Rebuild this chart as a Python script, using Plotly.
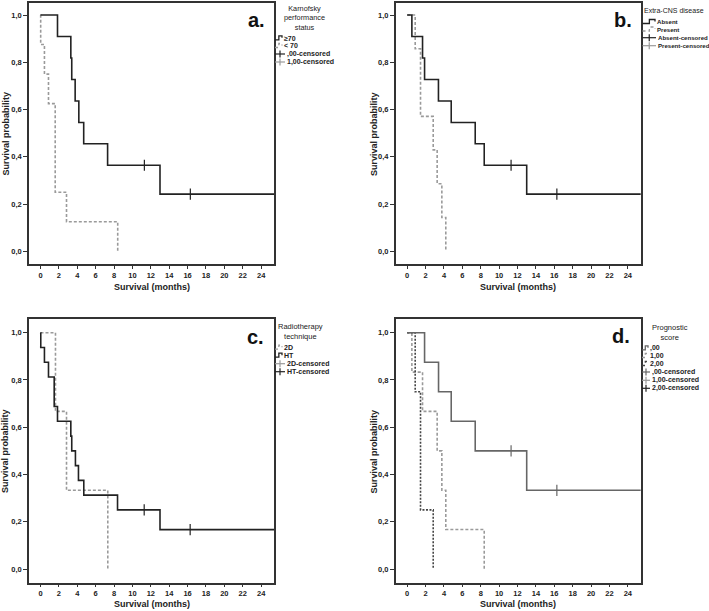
import plotly.graph_objects as go

W, H = 709, 611

# ---------------- data ----------------
# Panel a: Karnofsky performance status
a_hi_t = [1.85, 3.3, 3.4, 3.77, 4.17, 4.7, 7.3, 13.0, 26.0]
a_hi_s = [0.909, 0.818, 0.727, 0.636, 0.545, 0.455, 0.364, 0.242, 0.242]
a_hi_ct = [11.3, 16.3]
a_hi_cs = [0.364, 0.242]
a_lo_t = [0.02, 0.43, 0.87, 1.6, 2.83, 8.4]
a_lo_s = [0.875, 0.75, 0.625, 0.25, 0.125, 0.0]

# Panel b: Extra-CNS disease
b_abs_t = [0.51, 1.67, 1.89, 3.4, 4.79, 7.4, 8.38, 13.0, 26.0]
b_abs_s = [0.909, 0.818, 0.727, 0.636, 0.545, 0.455, 0.364, 0.242, 0.242]
b_abs_ct = [11.3, 16.28]
b_abs_cs = [0.364, 0.242]
b_pre_t = [0.87, 1.45, 2.83, 3.26, 3.77, 4.2]
b_pre_s = [0.857, 0.571, 0.429, 0.286, 0.143, 0.0]

# Panel c: Radiotherapy technique
c_2d_t = [1.63, 2.83, 7.32]
c_2d_s = [0.667, 0.333, 0.0]
c_ht_t = [0.03, 0.43, 0.87, 1.49, 1.85, 3.3, 3.4, 3.8, 4.13, 4.71, 8.38, 13.0, 26.0]
c_ht_s = [0.9375, 0.875, 0.8125, 0.6875, 0.625, 0.5625, 0.5, 0.4375, 0.375,
          0.3125, 0.25, 0.1667, 0.1667]
c_ht_ct = [11.28, 16.28]
c_ht_cs = [0.25, 0.1667]

# Panel d: Prognostic score
d_0_t = [1.89, 3.41, 4.79, 7.4, 13.0, 26.0]
d_0_s = [0.875, 0.75, 0.625, 0.5, 0.333, 0.333]
d_0_ct = [11.3, 16.28]
d_0_cs = [0.5, 0.333]
d_1_t = [0.51, 1.67, 3.26, 3.77, 4.2, 8.38]
d_1_s = [0.833, 0.667, 0.5, 0.333, 0.167, 0.0]
d_2_t = [0.87, 1.45, 2.83]
d_2_s = [0.75, 0.25, 0.0]

x_ticks = list(range(0, 25, 2))
y_ticks = [0.0, 0.2, 0.4, 0.6, 0.8, 1.0]
y_tick_text = ["0,0", "0,2", "0,4", "0,6", "0,8", "1,0"]

# ---------------- styles ----------------
BLACK = "#222222"
GRAY = "#9a9a9a"
D0 = "#666666"
D2 = "#444444"
DASH = "3px,2px"
DOT = "2px,1.5px"
FONT = "Liberation Sans, Arial, sans-serif"


def px(x):
    return x / W


def py(y):
    return 1 - y / H


fig = go.Figure()

panels = {
    "a": dict(xa="x", ya="y", xd=[px(29), px(274)], yd=[py(264), py(3)], yr=[-0.054, 1.051]),
    "b": dict(xa="x2", ya="y2", xd=[px(395.7), px(640.7)], yd=[py(264), py(3)], yr=[-0.054, 1.051]),
    "c": dict(xa="x3", ya="y3", xd=[px(29), px(274)], yd=[py(582.7), py(319)], yr=[-0.058, 1.058]),
    "d": dict(xa="x4", ya="y4", xd=[px(395.7), px(640.7)], yd=[py(582.7), py(319)], yr=[-0.058, 1.058]),
}


def curve(p, t, s, color, dash="solid", width=1.6):
    fig.add_trace(go.Scatter(
        x=[0.0] + t, y=[1.0] + s, mode="lines", line_shape="hv",
        line=dict(color=color, width=width, dash=dash),
        xaxis=panels[p]["xa"], yaxis=panels[p]["ya"], showlegend=False,
        hoverinfo="skip"))


def censor(p, t, s, color):
    fig.add_trace(go.Scatter(
        x=t, y=s, mode="markers",
        marker=dict(symbol="line-ns", size=8, line=dict(color=color, width=1.2)),
        xaxis=panels[p]["xa"], yaxis=panels[p]["ya"], showlegend=False,
        hoverinfo="skip"))


curve("a", a_lo_t, a_lo_s, GRAY, DASH)
curve("a", a_hi_t, a_hi_s, BLACK)
censor("a", a_hi_ct, a_hi_cs, BLACK)

curve("b", b_pre_t, b_pre_s, GRAY, DASH)
curve("b", b_abs_t, b_abs_s, BLACK)
censor("b", b_abs_ct, b_abs_cs, BLACK)

curve("c", c_2d_t, c_2d_s, GRAY, DASH)
curve("c", c_ht_t, c_ht_s, BLACK)
censor("c", c_ht_ct, c_ht_cs, BLACK)

curve("d", d_1_t, d_1_s, GRAY, DASH)
curve("d", d_2_t, d_2_s, D2, DOT)
curve("d", d_0_t, d_0_s, D0)
censor("d", d_0_ct, d_0_cs, D0)

layout = dict(
    width=W, height=H, margin=dict(l=0, r=0, t=0, b=0),
    paper_bgcolor="white", plot_bgcolor="white", showlegend=False,
    font=dict(family=FONT, color=BLACK),
)

for i, (k, p) in enumerate(panels.items()):
    sfx = "" if i == 0 else str(i + 1)
    layout["xaxis" + sfx] = dict(
        domain=p["xd"], range=[-1.25, 25.4], anchor=p["ya"],
        tickvals=x_ticks, ticks="outside", ticklen=3, tickwidth=1, tickcolor="#333",
        showline=True, linecolor="#333", linewidth=1.5, mirror=True,
        showgrid=False, zeroline=False,
        tickfont=dict(family=FONT, size=7.5, color=BLACK, weight="bold"))
    layout["yaxis" + sfx] = dict(
        domain=p["yd"], range=p["yr"], anchor=p["xa"],
        tickvals=y_ticks, ticktext=y_tick_text, ticks="outside", ticklen=4,
        tickwidth=1, tickcolor="#333",
        showline=True, linecolor="#333", linewidth=1.5, mirror=True,
        showgrid=False, zeroline=False,
        tickfont=dict(family=FONT, size=7.5, color=BLACK, weight="bold"))

fig.update_layout(**layout)

ann = []
shapes = []


def text(x, y, s, size, bold=False, xanchor="center", yanchor="middle", angle=0, color=BLACK):
    ann.append(dict(
        x=px(x), y=py(y), xref="paper", yref="paper", text=s, showarrow=False,
        xanchor=xanchor, yanchor=yanchor, textangle=angle, borderpad=0,
        font=dict(family=FONT, size=size, color=color, weight="bold" if bold else "normal")))


# Axis titles
for cx, ty, ly in [(151.5, 287, 133.5), (518, 287, 133.5), (151.5, 604, 451), (518, 604, 451)]:
    text(cx, ty, "Survival (months)", 9, bold=True)
    text(5 if cx < 300 else 373.5, ly, "Survival probability", 9, bold=True, angle=-90)

# Panel labels
text(266, 20, "a.", 20, bold=True, xanchor="right", color="#111")
text(633, 20, "b.", 20, bold=True, xanchor="right", color="#111")
text(265, 337, "c.", 20, bold=True, xanchor="right", color="#111")
text(631, 336, "d.", 20, bold=True, xanchor="right", color="#111")


def glyph_step(x0, x1, yc, color, dash="solid"):
    xm = x0 + (x1 - x0) * 0.55
    path = (f"M {px(x0)},{py(yc + 1.5)} L {px(xm)},{py(yc + 1.5)} "
            f"L {px(xm)},{py(yc - 2.5)} L {px(x1)},{py(yc - 2.5)} L {px(x1)},{py(yc - 0.5)}")
    shapes.append(dict(type="path", path=path, xref="paper", yref="paper",
                       line=dict(color=color, width=1.3, dash=dash)))


def glyph_cross(x0, x1, yc, color):
    xm = (x0 + x1) / 2
    shapes.append(dict(type="line", x0=px(x0), x1=px(x1), y0=py(yc), y1=py(yc),
                       xref="paper", yref="paper", line=dict(color=color, width=1.2)))
    shapes.append(dict(type="line", x0=px(xm), x1=px(xm), y0=py(yc - 3.5), y1=py(yc + 3.5),
                       xref="paper", yref="paper", line=dict(color=color, width=1.2)))


def legend(title, title_x, title_y, title_anchor, title_size, entries, gx0, gx1, tx, cx1, ctx, esize):
    text(title_x, title_y, title, title_size, xanchor=title_anchor)
    for (label, y, kind, color, dash) in entries:
        if kind == "step":
            glyph_step(gx0, gx1, y, color, dash)
            text(tx, y, label, esize, bold=True, xanchor="left")
        else:
            glyph_cross(gx0, cx1, y, color)
            text(ctx, y, label, esize, bold=True, xanchor="left")


legend("Karnofsky<br>performance<br>status", 304, 17.5, "center", 7.3,
       [("≥70", 38.3, "step", BLACK, "solid"),
        ("< 70", 46, "step", GRAY, "dot"),
        (",00-censored", 54, "cross", BLACK, None),
        ("1,00-censored", 62, "cross", GRAY, None)],
       275, 282, 282.5, 285, 285.5, 7)

legend("Extra-CNS disease", 643, 10, "left", 7,
       [("Absent", 22, "step", BLACK, "solid"),
        ("Present", 29.5, "step", GRAY, "dot"),
        ("Absent-censored", 37.7, "cross", BLACK, None),
        ("Present-censored", 45.7, "cross", GRAY, None)],
       642.5, 655, 655.5, 656, 656.5, 6.1)

legend("Radiotherapy<br>technique", 300, 331, "center", 7.5,
       [("2D", 347.7, "step", GRAY, "dot"),
        ("HT", 355.7, "step", BLACK, "solid"),
        ("2D-censored", 363.7, "cross", GRAY, None),
        ("HT-censored", 371.7, "cross", BLACK, None)],
       275, 282, 282.5, 285, 285.5, 7)

legend("Prognostic<br>score", 670, 332, "center", 7.5,
       [(",00", 348.3, "step", D0, "solid"),
        ("1,00", 356, "step", GRAY, "dot"),
        ("2,00", 364, "step", D2, "dot"),
        (",00-censored", 372, "cross", D0, None),
        ("1,00-censored", 380.3, "cross", GRAY, None),
        ("2,00-censored", 388.3, "cross", BLACK, None)],
       642, 648, 648.5, 650, 650.5, 7)

fig.update_layout(annotations=ann, shapes=shapes)

fig.write_html(
    "out.html",
    config={"displayModeBar": False},
    post_script="document.body.style.margin='0px';document.body.style.overflow='hidden';")
